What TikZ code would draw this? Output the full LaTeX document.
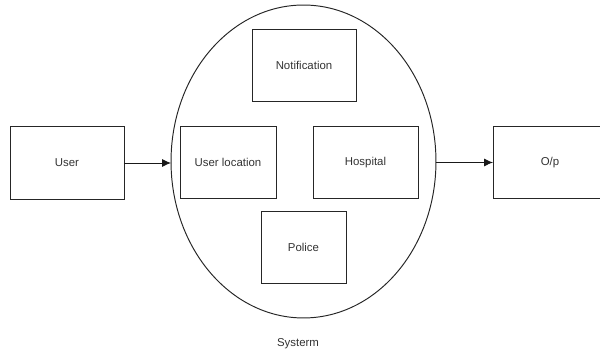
\documentclass[tikz,border=0pt]{standalone}
\usepackage{fontspec}
\setmainfont{Liberation Sans}
\usepackage{tikz}
\usetikzlibrary{shapes.geometric,arrows.meta}

\begin{document}
\begin{tikzpicture}[x=0.02cm,y=-0.02cm,
  every node/.style={inner sep=0pt,outer sep=0pt,text=black!80,font=\fontsize{6.5}{7}\selectfont},
  blk/.style={draw=black!85,line width=0.55pt,rectangle,minimum height=1.45cm},
  link/.style={draw=black!90,line width=0.55pt,-{Latex[length=5pt,width=4.5pt]}}]
\useasboundingbox (0,0) rectangle (600,354);
\clip (0,0) rectangle (600,354);
% system
\node [draw=black!85,line width=0.55pt,ellipse,minimum width=5.3cm,minimum height=6.26cm] (sys) at (303.5,161.5) {};
\node (systxt) at (298,344) {Systerm};
% blocks
\node [blk,minimum width=2.28cm] (user) at (67,163) {User};
\node [blk,minimum width=1.92cm] (uloc) at (228,162.5) {User location};
\node [blk,minimum width=2.1cm] (hosp) at (365.5,162.5) {Hospital};
\node [blk,minimum width=2.08cm] (notif) at (304,65.5) {Notification};
\node [blk,minimum width=1.7cm,minimum height=1.44cm] (pol) at (303.5,247) {Police};
\node [blk,minimum width=2.28cm] (op) at (550,162.5) {O/p};
% arrows
\draw [link] (user.east) -- (user.east -| sys.west);
\draw [link] (sys.east |- op.west) -- (op.west);
\end{tikzpicture}
\end{document}
